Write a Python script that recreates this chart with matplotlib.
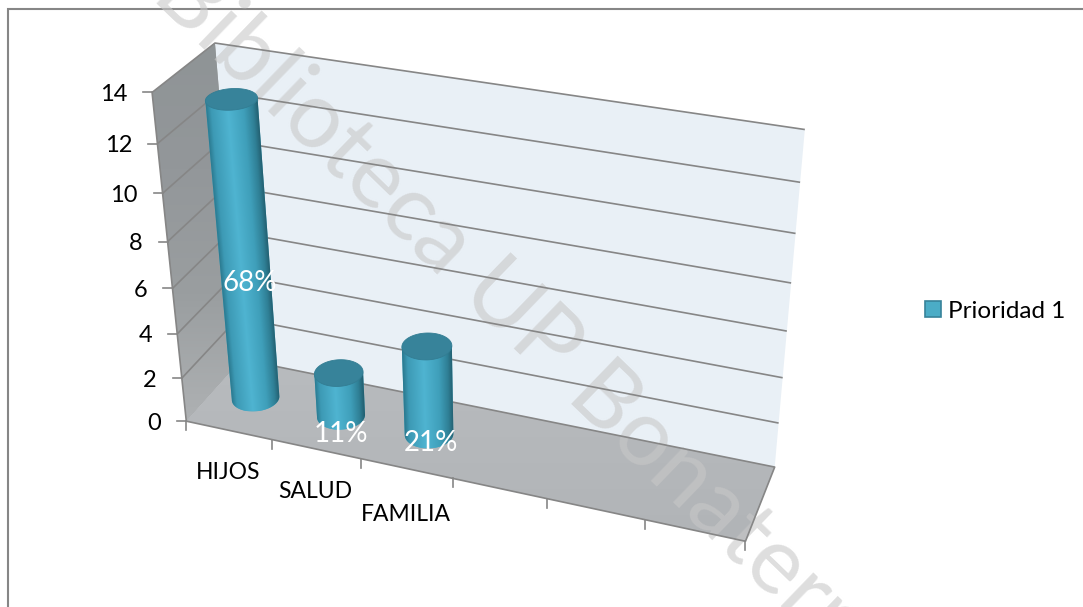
import numpy as np
import matplotlib
matplotlib.use("Agg")
import matplotlib.pyplot as plt
from matplotlib.colors import LinearSegmentedColormap
from matplotlib.patches import Patch, Polygon, Rectangle

plt.rcParams['font.family'] = ['Lato', 'DejaVu Sans']

# Datos
categorias = ["HIJOS", "SALUD", "FAMILIA"]
valores = [13, 2, 4]
porcentajes = ["68%", "11%", "21%"]
ticks_y = [0, 2, 4, 6, 8, 10, 12, 14]
n_cat = 6  # the chart keeps 3 empty category slots
serie = "Prioridad 1"
marca_agua = "Biblioteca UP Bonaterra"

W, H = 1083, 607
y_max = 14

fig = plt.figure(figsize=(W / 100, H / 100), dpi=100)
ax = fig.add_axes([0, 0, 1, 1])


# perspective camera fitted on the corners of the chart box
def fit_camera():
    mundo = [(0, 0, 0), (0, 0, 1), (0, 1, 0), (0, 1, 1), (1, 1, 0), (1, 1, 1), (1, 0, 0)]
    imagen = [(185, 420), (154, 92), (243, 361), (213, 43), (775, 465), (805, 130), (745, 543)]
    A, b = [], []
    for (u, d, v), (px, py) in zip(mundo, imagen):
        A.append([u, d, v, 1, 0, 0, 0, 0, -px * u, -px * d, -px * v])
        A.append([0, 0, 0, 0, u, d, v, 1, -py * u, -py * d, -py * v])
        b += [px, py]
    return np.append(np.linalg.lstsq(np.array(A, float), np.array(b, float), rcond=None)[0], 1).reshape(3, 4)


cam = fit_camera()


def proj(cat, prof, val):
    # cat in category slots, prof in 0-1 depth, val in chart units
    cat, prof, val = np.broadcast_arrays(cat, prof, val)
    p = np.stack([cat / n_cat, prof, val / y_max, np.ones(cat.shape)])
    q = cam @ p.reshape(4, -1)
    return (q[0] / q[2]).reshape(cat.shape), (q[1] / q[2]).reshape(cat.shape)


def quad(c0, c1, z=1, **kw):
    xs, ys = zip(*[proj(*c) for c in c0 + c1])
    pol = Polygon(np.column_stack([xs, ys]), closed=True, lw=0, zorder=z, **kw)
    ax.add_patch(pol)
    return pol


def gradiente(pol, colores, z=1):
    cmap = LinearSegmentedColormap.from_list("g", colores)
    pts = pol.get_xy()
    x0, x1, y0, y1 = pts[:, 0].min(), pts[:, 0].max(), pts[:, 1].min(), pts[:, 1].max()
    img = np.linspace(0, 1, 200)[:, None]
    im = ax.imshow(img, extent=[x0, x1, y1, y0], cmap=cmap, aspect="auto", zorder=z, interpolation="bilinear")
    im.set_clip_path(pol)


# paredes
ax.add_patch(Rectangle((8, 9), W, H, fc="white", ec="#868686", lw=1.5, zorder=0))
pared = quad([(0, 1, 0), (0, 1, y_max)], [(n_cat, 1, y_max), (n_cat, 1, 0)], fc="#e9f0f6")
lado = quad([(0, 0, 0), (0, 0, y_max)], [(0, 1, y_max), (0, 1, 0)], fc="#a0a4a6")
gradiente(lado, ["#8f9496", "#93979a", "#9a9ea0", "#aeb1b3"])
suelo = quad([(0, 0, 0), (0, 1, 0)], [(n_cat, 1, 0), (n_cat, 0, 0)], fc="#b2b5b8")
gradiente(suelo, ["#b8bbbe", "#b1b4b7"])

# marca de agua
ax.text(522, 320, marca_agua, rotation=-44, rotation_mode="anchor", ha="center", va="center",
        fontsize=67, color="#c8c8c8", alpha=0.6, zorder=2)

# rejilla
gris = "#868686"
for t in ticks_y:
    xa, ya = proj(np.array([0, 0, n_cat]), np.array([0, 1, 1]), t)
    if t > 0:
        ax.plot(xa, ya, color=gris, lw=1.2, zorder=3, solid_capstyle="butt")
    ax.plot([xa[0] - 9, xa[0]], [ya[0], ya[0]], color=gris, lw=1.2, zorder=3)
    ax.text(xa[0] - 25, ya[0], str(t), ha="right", va="center_baseline", fontsize=17, color="black", zorder=6)

xb, yb = proj(np.array([0.0, 0.0]), np.array([0.0, 0.0]), np.array([0, y_max]))
ax.plot(xb, yb, color=gris, lw=1.2, zorder=3)
# borde del suelo
xb, yb = proj(np.array([0.0, n_cat, n_cat, 0.0]), np.array([0.0, 0.0, 1.0, 1.0]), 0)
ax.plot(xb, yb, color=gris, lw=1.2, zorder=3)
for i in range(n_cat + 1):
    xt, yt = proj(i, 0, 0)
    ax.plot([xt, xt], [yt, yt + 9], color=gris, lw=1.2, zorder=3)

# cilindros
cmap_bar = LinearSegmentedColormap.from_list(
    "bar", [(0, "#2b7a90"), (0.1, "#3d9ab5"), (0.42, "#4fb4d1"), (0.72, "#3f9fba"), (0.9, "#2f7f95"), (1, "#235f70")])
ang = np.linspace(0, 2 * np.pi, 121)
for i, (val, cat) in enumerate(zip(valores, categorias)):
    cu = i + 0.49 + 0.042 * n_cat * np.cos(ang)
    cd = 0.5 + 0.2 * np.sin(ang)
    xs, ys = proj(cu, cd, 0)
    xt, yt = proj(cu, cd, val)
    li, ri = np.argmin(xs), np.argmax(xs)
    lt, rt = np.argmin(xt), np.argmax(xt)
    cuerda = ys[li] + (xs - xs[li]) * (ys[ri] - ys[li]) / (xs[ri] - xs[li])
    bajo = np.where(ys >= cuerda)[0]
    bajo = bajo[np.argsort(xs[bajo])]
    contorno = [(xt[lt], yt[lt])] + list(zip(xs[bajo], ys[bajo])) + [(xt[rt], yt[rt])]
    cuerpo = Polygon(contorno, closed=True, fc="#4bacc6", lw=0, zorder=5)
    ax.add_patch(cuerpo)

    x0, x1 = min(xt.min(), xs.min()), max(xt.max(), xs.max())
    y0, y1 = yt.min(), ys.max()
    mx, my = np.meshgrid(np.linspace(x0, x1, 200), np.linspace(y0, y1, 300))
    f = np.clip((my - yt[lt]) / (ys[li] - yt[lt]), 0, 1.2)
    izq = xt[lt] + f * (xs[li] - xt[lt])
    der = xt[rt] + f * (xs[ri] - xt[rt])
    im = ax.imshow(np.clip((mx - izq) / (der - izq), 0, 1), extent=[x0, x1, y1, y0], cmap=cmap_bar,
                   vmin=0, vmax=1, aspect="auto", zorder=5, interpolation="bilinear")
    im.set_clip_path(cuerpo)
    ax.fill(xt, yt, fc="#37839a", ec="#337d93", lw=0.6, zorder=5.5)

    # etiquetas
    xm, ym = proj(i + 0.5, 0, 0)
    ax.text(xm - 1, ym + 42 + (4 if i == 2 else 0), cat, ha="center", va="center", fontsize=16.5, color="black", zorder=6)

etiq_alto = [5.3, 0.0, 0.0]
desvio = [(3, 0), (-1, 18), (1, 9)]
for i, (txt, v, (dx, dy)) in enumerate(zip(porcentajes, etiq_alto, desvio)):
    xl, yl = proj(i + 0.5, 0.5, v)
    ax.text(xl + dx, yl + dy, txt, ha="center", va="center", fontsize=20, color="white", zorder=7)

# leyenda
fig.legend(handles=[Patch(fc="#4bacc6", ec="#37839a", lw=1.2, label=serie)], loc="center left",
           bbox_to_anchor=(925 / W, 1 - 311 / H), frameon=False, fontsize=17.5, handlelength=0.65,
           handleheight=0.65, handletextpad=0.3, borderpad=0, borderaxespad=0)

ax.set_xlim(0, W)
ax.set_ylim(H, 0)
ax.axis("off")
fig.savefig("out.png", dpi=100)
